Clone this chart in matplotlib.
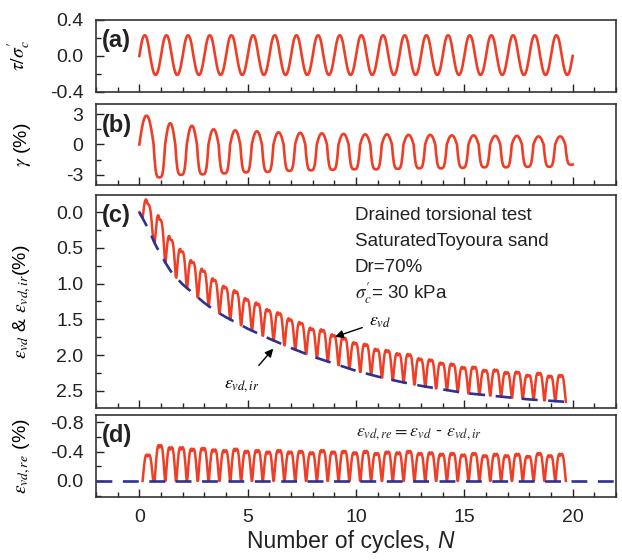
import numpy as np
import matplotlib
matplotlib.use("Agg")
import matplotlib.pyplot as plt
from matplotlib.ticker import MultipleLocator

plt.rcParams["font.family"] = ["Liberation Sans", "DejaVu Sans"]
plt.rcParams["mathtext.fontset"] = "stix"

RED = "#ef3d26"
BLUE = "#2e3192"

# (a) tau / sigma'c, peak and trough of every cycle
tau_peak = [0.23, 0.23, 0.23, 0.23, 0.23, 0.23, 0.23, 0.23, 0.23, 0.23,
            0.23, 0.23, 0.23, 0.23, 0.23, 0.23, 0.23, 0.23, 0.23, 0.23]
tau_trough = [-0.21, -0.21, -0.21, -0.21, -0.21, -0.21, -0.21, -0.21, -0.21, -0.21,
              -0.21, -0.21, -0.21, -0.21, -0.21, -0.21, -0.21, -0.21, -0.21, -0.21]

# (b) shear strain gamma (%), peak and trough of every cycle
gamma_peak = [2.85, 2.1, 1.85, 1.5, 1.4, 1.3, 1.2, 1.15, 1.1, 1.05,
              1.0, 1.0, 0.95, 0.95, 0.9, 0.9, 0.85, 0.85, 0.8, 0.8]
gamma_trough = [-3.25, -3.0, -2.95, -2.85, -2.75, -2.7, -2.6, -2.55, -2.5, -2.45,
                -2.45, -2.4, -2.35, -2.35, -2.3, -2.25, -2.25, -2.2, -2.2, -2.0]

# (c) irreversible volumetric strain along the dashed curve
ir_N = [0, 0.25, 0.5, 0.75, 1.0, 1.25, 1.5, 2.0, 2.5, 3.0, 3.5, 4.0, 5.0, 6.0,
        7.0, 8.0, 9.0, 10, 11, 12, 13, 14, 15, 16, 17, 18, 19, 20]
ir_val = [0, 0.14, 0.29, 0.46, 0.60, 0.73, 0.85, 1.01, 1.14, 1.27, 1.38, 1.47, 1.63, 1.77,
          1.90, 2.02, 2.12, 2.22, 2.30, 2.37, 2.43, 2.48, 2.53, 2.56, 2.59, 2.62, 2.64, 2.66]

# (d) reversible part, height of each hump (two per cycle)
re_hump = [0.36, 0.49, 0.46, 0.46, 0.44, 0.45, 0.43, 0.42, 0.44, 0.41,
           0.42, 0.40, 0.42, 0.40, 0.41, 0.39, 0.42, 0.40, 0.41, 0.39,
           0.41, 0.38, 0.40, 0.39, 0.41, 0.38, 0.39, 0.37, 0.38, 0.36,
           0.38, 0.35, 0.37, 0.35, 0.37, 0.34, 0.38, 0.35, 0.37]

# normalised shapes of one half cycle / one hump
half_round = [0, 0.28, 0.53, 0.74, 0.89, 0.98, 1.0, 0.98, 0.89, 0.74, 0.53, 0.28, 0]
half_flat = [0, 0.45, 0.76, 0.92, 0.98, 1.0, 1.0, 1.0, 0.98, 0.92, 0.76, 0.45, 0]
hump_shape = [0, 0.3, 0.62, 0.85, 0.97, 1.0, 0.93, 0.97, 1.0, 0.96, 0.84, 0.6, 0.28, 0]


def chain(segments):
    ts, vs = [], []
    for t0, t1, shape, amp in segments:
        s = np.asarray(shape, dtype=float)
        ts.append(np.linspace(t0, t1, len(s)))
        vs.append(s * amp)
    return np.concatenate(ts), np.concatenate(vs)


# (a)
segs = []
for k in range(20):
    segs.append((k, k + 0.5, half_round, tau_peak[k]))
    segs.append((k + 0.5, k + 1, half_round, tau_trough[k]))
tau_t, tau_v = chain(segs)

# (b)
segs = [(0, 0.66, half_round, gamma_peak[0])]
for k in range(20):
    if k > 0:
        segs.append((k + 0.19, k + 0.66, half_round, gamma_peak[k]))
    segs.append((k + 0.66, k + 1.19, half_flat, gamma_trough[k]))
g_t, g_v = chain(segs)
g_end = np.interp(20, g_t, g_v)
keep = g_t <= 20
g_t = np.append(g_t[keep], 20)
g_v = np.append(g_v[keep], g_end)

# (d) humps
segs = [(0.15, 0.64, hump_shape, re_hump[0])]
for j in range(1, len(re_hump)):
    s0 = 0.71 + 0.5 * (j - 1)
    segs.append((s0, s0 + 0.475, hump_shape, re_hump[j]))
re_t, re_v = chain(segs)

# (c) total = irreversible + reversible
c_t = np.concatenate([[0], re_t])
c_v = np.interp(c_t, ir_N, ir_val) - np.concatenate([[0], re_v])

fig = plt.figure(figsize=(6.22, 5.6), dpi=100)
W, L = 520 / 622, 96 / 622
ax_a = fig.add_axes([L, 1 - 92 / 560, W, 72 / 560])
ax_b = fig.add_axes([L, 1 - 185 / 560, W, 81 / 560])
ax_c = fig.add_axes([L, 1 - 408 / 560, W, 213 / 560])
ax_d = fig.add_axes([L, 1 - 497 / 560, W, 82 / 560])
axes = [ax_a, ax_b, ax_c, ax_d]

ax_a.plot(tau_t, tau_v, color=RED, lw=1.9)
ax_b.plot(g_t, g_v, color=RED, lw=1.9)
ax_c.plot(c_t, c_v, color=RED, lw=1.8)
ax_c.plot(ir_N, ir_val, color=BLUE, lw=1.9, dashes=(6, 4))
ax_d.plot(re_t, -re_v, color=RED, lw=1.8)
ax_d.axhline(0, color=BLUE, lw=1.9, dashes=(6, 4))

ax_a.set_ylim(-0.4, 0.4)
ax_a.yaxis.set_major_locator(MultipleLocator(0.4))
ax_a.yaxis.set_minor_locator(MultipleLocator(0.2))
ax_b.set_ylim(-4, 4)
ax_b.yaxis.set_major_locator(MultipleLocator(3))
ax_b.yaxis.set_minor_locator(MultipleLocator(1.5))
ax_c.set_ylim(2.74, -0.24)
ax_c.yaxis.set_major_locator(MultipleLocator(0.5))
ax_c.yaxis.set_minor_locator(MultipleLocator(0.25))
ax_d.set_ylim(0.22, -0.9)
ax_d.yaxis.set_major_locator(MultipleLocator(0.4))
ax_d.yaxis.set_minor_locator(MultipleLocator(0.2))

ax_a.yaxis.set_major_formatter(plt.FuncFormatter(lambda v, p: f"{v:.1f}"))
ax_c.yaxis.set_major_formatter(plt.FuncFormatter(lambda v, p: f"{v:.1f}"))
ax_d.yaxis.set_major_formatter(plt.FuncFormatter(lambda v, p: f"{v:.1f}"))
ax_b.yaxis.set_major_formatter(plt.FuncFormatter(lambda v, p: f"{v:.0f}"))

for ax in axes:
    ax.set_xlim(-2, 22)
    ax.xaxis.set_major_locator(MultipleLocator(5))
    ax.xaxis.set_minor_locator(MultipleLocator(1))
    ax.tick_params(which="both", direction="in", top=False, right=False,
                   labelsize=14, colors="#222222", pad=9)
    ax.tick_params(which="major", length=6, width=1)
    ax.tick_params(which="minor", length=3.5, width=1)
    for sp in ax.spines.values():
        sp.set_linewidth(1.2)
        sp.set_color("#333333")
    ax.yaxis.set_label_coords(-0.122, 0.5)
    if ax is not ax_d:
        ax.tick_params(labelbottom=False)

ax_a.set_ylabel(r"$\tau/\sigma_c'$", fontsize=14)
ax_b.set_ylabel(r"$\gamma$ (%)", fontsize=14)
ax_c.set_ylabel(r"$\varepsilon_{vd}$ & $\varepsilon_{vd,ir}$(%)", fontsize=14)
ax_d.set_ylabel(r"$\varepsilon_{vd,re}$ (%)", fontsize=14)

for ax, lab, yy in [(ax_a, "(a)", 0.72), (ax_b, "(b)", 0.74),
                    (ax_c, "(c)", 0.905), (ax_d, "(d)", 0.755)]:
    ax.text(0.012, yy, lab, transform=ax.transAxes, fontsize=17,
            fontweight="bold", va="center", ha="left", color="#222222")

lines = ["Drained torsional test", "SaturatedToyoura sand", "Dr=70%",
         r"$\sigma_c'$= 30 kPa"]
for i, s in enumerate(lines):
    ax_c.text(9.95, 0.04 + 0.365 * i, s, fontsize=13.5, va="center", ha="left",
              color="#222222")

ax_c.annotate(r"$\varepsilon_{vd}$", xy=(9.03, 1.745), xytext=(10.6, 1.53),
              fontsize=13, va="center", ha="left",
              arrowprops=dict(arrowstyle="-|>", color="black", lw=1,
                              mutation_scale=12, shrinkA=3, shrinkB=0))
ax_c.annotate(r"$\varepsilon_{vd,ir}$", xy=(6.18, 1.91), xytext=(4.73, 2.42),
              fontsize=13, va="center", ha="center",
              arrowprops=dict(arrowstyle="-|>", color="black", lw=1,
                              mutation_scale=12, shrinkA=8, shrinkB=0))

ax_d.text(12.9, -0.65, r"$\varepsilon_{vd,re} = \varepsilon_{vd}$ - $\varepsilon_{vd,ir}$",
          fontsize=13, ha="center", va="center", color="#222222")

txt = fig.text(247 / 622, 1 - 548 / 560, "Number of cycles, ", fontsize=16.5,
               ha="left", va="baseline", color="#222222")
ax_d.annotate("N", xy=(1, 0), xycoords=txt, va="bottom", ha="left",
              fontsize=16.5, style="italic", color="#222222", annotation_clip=False)

fig.savefig("out.png", dpi=100)
